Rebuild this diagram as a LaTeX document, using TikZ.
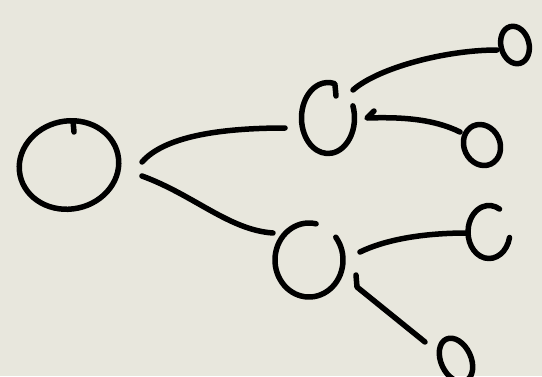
\documentclass[tikz,border=0pt]{standalone}
\usetikzlibrary{shapes.geometric}
\definecolor{paper}{HTML}{E8E7DD}
\tikzset{
  pen/.style={line width=5.5pt, line cap=round, line join=round, draw=black},
  blob/.style={ellipse, inner sep=0pt, outer sep=0pt},
  closedblob/.style={blob, pen},
}
\begin{document}
\begin{tikzpicture}[x=1pt,y=-1pt]
\fill[paper] (0,0) rectangle (542,376);
\useasboundingbox (0,0) rectangle (542,376);
\clip (0,0) rectangle (542,376);
% nodes
\node[closedblob, minimum width=100pt, minimum height=88pt, rotate=12] (root) at (69,165) {};
\node[blob, minimum width=53pt, minimum height=71pt] (up) at (328,118) {};
\node[blob, minimum width=68pt, minimum height=74pt] (low) at (309,260) {};
\node[closedblob, minimum width=28pt, minimum height=38pt, rotate=15] (l1) at (515,45) {};
\node[closedblob, minimum width=36pt, minimum height=42pt, rotate=25] (l2) at (482,145) {};
\node[blob, minimum width=42pt, minimum height=53pt] (l3) at (489,232) {};
\node[closedblob, minimum width=30pt, minimum height=46pt, rotate=25] (l4) at (456,360) {};
% open C-shaped nodes
\draw[pen] ([shift={(-20:26.5 and 35.5)}]up.center) arc[start angle=-20, end angle=285, x radius=26.5, y radius=35.5] -- ([shift={(8,-22)}]up.center);
\draw[pen] ([shift={(-38:34 and 37)}]low.center) arc[start angle=-38, end angle=282, x radius=34, y radius=37];
\draw[pen] ([shift={(12:21 and 26.5)}]l3.center) arc[start angle=12, end angle=300, x radius=21, y radius=26.5];
% hook at top of root
\draw[pen] ([shift={(4,-44)}]root.center) -- ([shift={(5,-33)}]root.center);
% connectors
\draw[pen] ([shift={(73,-3)}]root.center) .. controls ([shift={(95,-28)}]root.center) and ([shift={(-110,10)}]up.center) .. ([shift={(-43,10)}]up.center);
\draw[pen] ([shift={(73,11)}]root.center) .. controls ([shift={(125,30)}]root.center) and ([shift={(-80,-30)}]low.center) .. ([shift={(-36,-27)}]low.center);
\draw[pen] ([shift={(25,-28)}]up.center) .. controls ([shift={(50,-50)}]up.center) and ([shift={(-70,5)}]l1.center) .. ([shift={(-18,5)}]l1.center);
\draw[pen] ([shift={(-22,-13)}]l2.center) .. controls ([shift={(-50,-27)}]l2.center) and ([shift={(-85,-28)}]l2.center) .. ([shift={(39,0)}]up.center) -- ([shift={(46,-7)}]up.center);
\draw[pen] ([shift={(51,-8)}]low.center) .. controls ([shift={(80,-22)}]low.center) and ([shift={(-60,1)}]l3.center) .. ([shift={(-22,1)}]l3.center);
\draw[pen] ([shift={(47,15)}]low.center) -- ([shift={(48,27)}]low.center) -- ([shift={(-31,-18)}]l4.center);
\end{tikzpicture}
\end{document}
